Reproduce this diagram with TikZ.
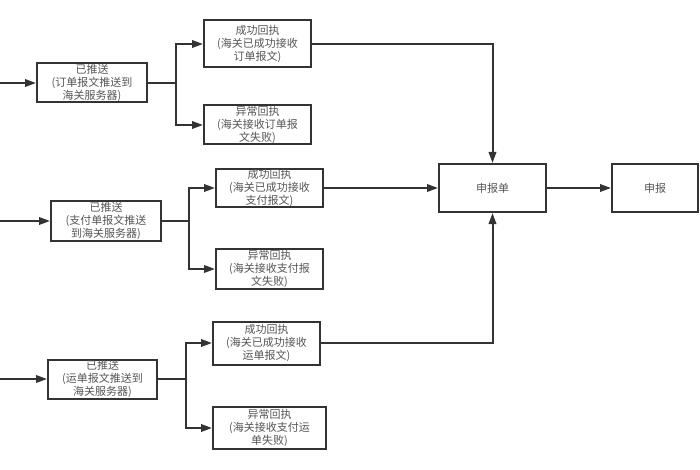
\documentclass[tikz,border=0pt]{standalone}
\usepackage{fontspec}
\newfontfamily\cjk{Noto Sans CJK SC}
\usetikzlibrary{arrows.meta}
\definecolor{ln}{HTML}{333333}
\definecolor{tx}{HTML}{555555}
\tikzset{
  box/.style={draw=ln, line width=2pt, fill=white, inner sep=0pt, align=center,
    text=tx, font=\cjk\fontsize{11pt}{13pt}\selectfont},
  arr/.style={draw=ln, line width=2pt, -{Triangle[length=11pt,width=7.5pt]}},
}
\begin{document}
\begin{tikzpicture}[x=1pt,y=-1pt]
\useasboundingbox (0,0) rectangle (700,470);
% row 1
\node[box, minimum width=110pt, minimum height=39pt] (A1) at (92,83) {已推送\\(订单报文推送到\\海关服务器)};
\node[box, minimum width=107pt, minimum height=47pt] (S1) at (257.5,44) {成功回执\\(海关已成功接收\\订单报文)};
\node[box, minimum width=107pt, minimum height=39pt] (F1) at (257.5,125) {异常回执\\(海关接收订单报\\文失败)};
% row 2
\node[box, minimum width=110pt, minimum height=39pt] (A2) at (106,221) {已推送\\(支付单报文推送\\到海关服务器)};
\node[box, minimum width=107pt, minimum height=38pt] (S2) at (269.5,188) {成功回执\\(海关已成功接收\\支付报文)};
\node[box, minimum width=107pt, minimum height=40pt] (F2) at (269.5,269) {异常回执\\(海关接收支付报\\文失败)};
% row 3
\node[box, minimum width=109pt, minimum height=39pt] (A3) at (102.5,379) {已推送\\(运单报文推送到\\海关服务器)};
\node[box, minimum width=107pt, minimum height=43pt] (S3) at (266.5,343) {成功回执\\(海关已成功接收\\运单报文)};
\node[box, minimum width=113pt, minimum height=42pt] (F3) at (269.5,428) {异常回执\\(海关接收支付运\\单失败)};
% right
\node[box, minimum width=107pt, minimum height=48pt] (J) at (492.5,188) {申报单};
\node[box, minimum width=86pt, minimum height=48pt] (D) at (655,188) {申报};
% inputs
\coordinate (i1) at (0,83);
\coordinate (i2) at (0,221);
\coordinate (i3) at (0,379);
\draw[arr] (i1) -- (A1);
\draw[arr] (i2) -- (A2);
\draw[arr] (i3) -- (A3);
% branches
\draw[arr] (A1.east) -- ++(28,0) |- (S1.west);
\draw[arr] (A1.east) -- ++(28,0) |- (F1.west);
\draw[arr] (A2.east) -- ++(27,0) |- (S2.west);
\draw[arr] (A2.east) -- ++(27,0) |- (F2.west);
\draw[arr] (A3.east) -- ++(28,0) |- (S3.west);
\draw[arr] (A3.east) -- ++(28,0) |- (F3.west);
% to 申报单
\draw[arr] (S1.east) -| (J.north);
\draw[arr] (S2.east) -- (J.west);
\draw[arr] (S3.east) -| (J.south);
\draw[arr] (J.east) -- (D.west);
\end{tikzpicture}
\end{document}
